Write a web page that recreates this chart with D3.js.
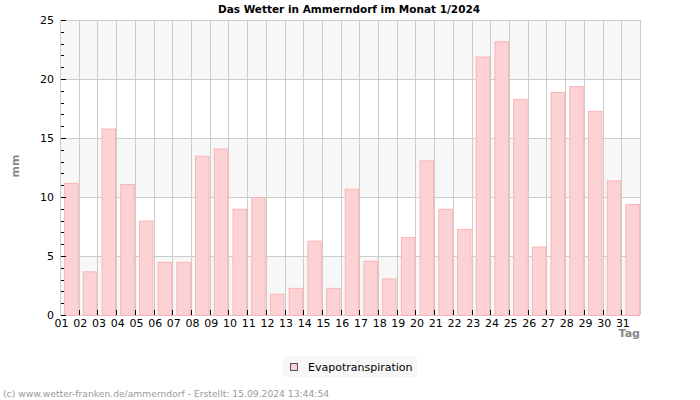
<!DOCTYPE html>
<html><head><meta charset="utf-8">
<script src="https://cdn.jsdelivr.net/npm/d3@7"></script>
<style>body{margin:0;background:#fff}svg{display:block;font-family:"DejaVu Sans",sans-serif}</style>
</head><body>
<svg id="c" width="700" height="400"></svg>
<script>
const days = ["01","02","03","04","05","06","07","08","09","10","11","12","13","14","15","16","17","18","19","20","21","22","23","24","25","26","27","28","29","30","31"];
const evapo = [11.2,3.7,15.8,11.1,8.0,4.5,4.5,13.5,14.1,9.0,10.0,1.8,2.3,6.3,2.3,10.7,4.6,3.1,6.6,13.1,9.0,7.3,21.9,23.2,18.3,5.8,18.9,19.4,17.3,11.4,9.4];
const yTicks = [0,5,10,15,20,25];
const title = "Das Wetter in Ammerndorf im Monat 1/2024";
const seriesName = "Evapotranspiration";
const footer = "(c) www.wetter-franken.de/ammerndorf - Erstellt: 15.09.2024 13:44:54";

const svg = d3.select("#c");
const L=60,R=640,T=20,B=315;
const x = d3.scaleBand().domain(days).range([L,R]).padding(0);
const y = d3.scaleLinear().domain([0,25]).range([B,T]);
const bw = x.bandwidth();

// background bands
for(let i=0;i<yTicks.length-1;i++){
  const a=yTicks[i], b=yTicks[i+1];
  svg.append("rect").attr("x",L).attr("y",y(b)).attr("width",R-L).attr("height",y(a)-y(b))
    .attr("fill", i%2===0 ? "#f7f7f7" : "#ffffff");
}
// horizontal grid
svg.selectAll(".hg").data(yTicks).enter().append("line")
  .attr("x1",L).attr("x2",R).attr("y1",d=>y(d)+0.5).attr("y2",d=>y(d)+0.5)
  .attr("stroke","#cccccc");
// vertical grid
svg.selectAll(".vg").data(days).enter().append("line")
  .attr("x1",d=>Math.round(x(d))+0.5).attr("x2",d=>Math.round(x(d))+0.5).attr("y1",T).attr("y2",B)
  .attr("stroke","#cccccc");
svg.append("line").attr("x1",R+0.5).attr("x2",R+0.5).attr("y1",T).attr("y2",B).attr("stroke","#cccccc");

// bars
svg.selectAll(".bar").data(evapo).enter().append("rect")
  .attr("x",(d,i)=>x(days[i])+bw*0.22+0.5)
  .attr("width",bw*0.72)
  .attr("y",d=>y(d)+0.5)
  .attr("height",d=>B-y(d))
  .attr("fill","#fcd2d4").attr("stroke","#fbb4b6").attr("stroke-width",1);

// y ticks minor
const minor = d3.range(0,26,1);
svg.selectAll(".mt").data(minor).enter().append("line")
  .attr("x1",L+1).attr("x2",d=>d%5===0?L+6:L+4)
  .attr("y1",d=>Math.round(y(d))+0.5).attr("y2",d=>Math.round(y(d))+0.5)
  .attr("stroke","#000");
svg.selectAll(".yl").data(yTicks).enter().append("text")
  .attr("x",54).attr("y",d=>y(d)+4).attr("text-anchor","end")
  .attr("font-size",11).attr("fill","#000").text(d=>d);

// x ticks
svg.selectAll(".xt").data(days.slice(1)).enter().append("line")
  .attr("x1",d=>Math.round(x(d))+0.5).attr("x2",d=>Math.round(x(d))+0.5)
  .attr("y1",B-5).attr("y2",B).attr("stroke","#000");
svg.selectAll(".xl").data(days).enter().append("text")
  .attr("x",d=>x(d)+1.6).attr("y",327).attr("text-anchor","middle")
  .attr("font-size",11).attr("fill","#000").text(d=>d);

// title
svg.append("text").attr("x",349).attr("y",13).attr("text-anchor","middle")
  .attr("font-size",10.5).attr("font-weight","bold").attr("fill","#000").text(title);
// axis titles
svg.append("text").attr("transform","translate(19,166) rotate(-90)").attr("text-anchor","middle")
  .attr("font-size",11).attr("font-weight","bold").attr("fill","#888").text("mm");
svg.append("text").attr("x",640).attr("y",337).attr("text-anchor","end")
  .attr("font-size",11).attr("font-weight","bold").attr("fill","#888").text("Tag");

// legend
svg.append("rect").attr("x",283).attr("y",356).attr("width",134).attr("height",21).attr("fill","#f7f7f7");
svg.append("rect").attr("x",290.5).attr("y",363.5).attr("width",7).attr("height",7)
  .attr("fill","#fcd2d4").attr("stroke","#555");
svg.append("text").attr("x",308).attr("y",371).attr("font-size",11).attr("fill","#000").text(seriesName);

// footer
svg.append("text").attr("x",3).attr("y",397).attr("font-size",9.2).attr("fill","#999").text(footer);
</script>
</body></html>
